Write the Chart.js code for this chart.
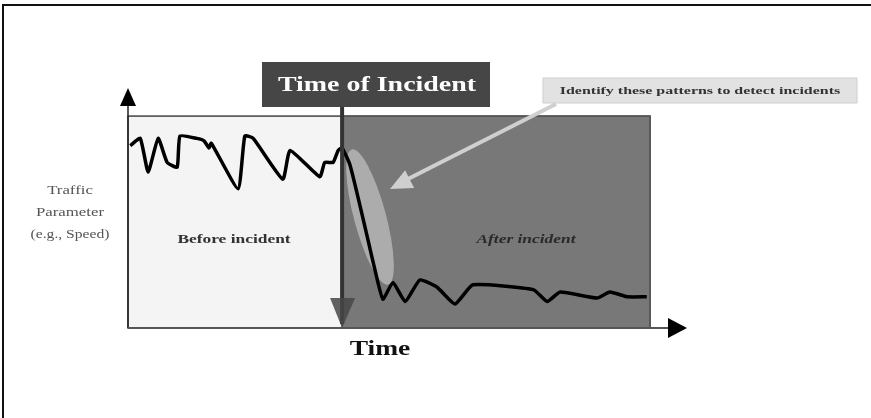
<!DOCTYPE html>
<html lang="en">
<head>
<meta charset="UTF-8">
<title>Traffic incident detection</title>
<script src="https://cdn.jsdelivr.net/npm/chart.js"></script>
<style>
  body { margin: 0; background: #fff; }
  canvas { display: block; }
</style>
</head>
<body>
<canvas id="myChart" width="871" height="418"></canvas>
<script>
// time (arbitrary units 0..100) and traffic parameter (speed, 0..100)
const timeValues = [0.4, 2.2, 3.6, 5.4, 7.0, 8.8, 9.3, 12.3, 13.6, 14.5, 14.9, 19.7, 20.9, 22.4, 27.7, 29.0, 34.3, 35.2, 36.7, 37.6, 38.3,
  39.7, 41.5, 42.9, 44.2, 45.6, 47.4, 49.6, 52.2, 55.3, 58.5, 61.7, 72.5, 75.0, 77.3, 83.9, 86.2, 89.3, 92.8];
const speedValues = [76, 79, 65, 79, 69, 67, 80, 79, 78, 75, 77, 58, 80, 79, 62, 74, 63, 69, 69, 74, 75,
  68, 51, 37, 24, 12, 19, 11, 20, 17, 10, 18, 16, 11, 15, 12.5, 15, 13, 13];

const incidentTime = 38.3;
const endTime = 93.4;
const regionTop = 88.3;

const points = timeValues.map((t, i) => ({x: t, y: speedValues[i]}));

function tri(ctx, pts, color) {
    ctx.beginPath();
    ctx.moveTo(pts[0][0], pts[0][1]);
    ctx.lineTo(pts[1][0], pts[1][1]);
    ctx.lineTo(pts[2][0], pts[2][1]);
    ctx.closePath();
    ctx.fillStyle = color;
    ctx.fill();
}

// the original lettering is wide, so stretch it sideways
function wideText(ctx, text, x, y, sx) {
    ctx.save();
    ctx.translate(x, y);
    ctx.scale(sx, 1);
    ctx.fillText(text, 0, 0);
    ctx.restore();
}

const diagram = {
    id: 'diagram',
    beforeDatasetsDraw(chart) {
        const ctx = chart.ctx;
        const xs = chart.scales.x, ys = chart.scales.y;
        const x0 = xs.getPixelForValue(0);
        const xi = xs.getPixelForValue(incidentTime);
        const xe = xs.getPixelForValue(endTime);
        const yt = ys.getPixelForValue(regionTop);
        const yb = ys.getPixelForValue(0);
        ctx.save();
        // frame
        ctx.strokeStyle = '#111';
        ctx.lineWidth = 2;
        ctx.beginPath();
        ctx.moveTo(3, 418); ctx.lineTo(3, 5); ctx.lineTo(871, 5);
        ctx.stroke();

        // regions
        ctx.fillStyle = '#f4f4f4';
        ctx.fillRect(x0, yt, xi - x0, yb - yt);
        ctx.fillStyle = '#787878';
        ctx.fillRect(xi, yt, xe - xi, yb - yt);
        ctx.strokeStyle = '#444';
        ctx.lineWidth = 1.5;
        ctx.strokeRect(x0, yt, xe - x0, yb - yt);
        ctx.strokeStyle = '#5a5a5a';
        ctx.strokeRect(xi, yt, xe - xi, yb - yt);

        // region labels
        ctx.font = 'bold 12px "Liberation Serif"';
        ctx.textAlign = 'center';
        ctx.textBaseline = 'middle';
        ctx.fillStyle = '#333';
        wideText(ctx, 'Before incident', 234, 240, 1.45);
        ctx.font = 'italic bold 12px "Liberation Serif"';
        ctx.fillStyle = '#2a2a2a';
        wideText(ctx, 'After incident', 526, 240, 1.45);

        // highlight ellipse
        ctx.beginPath();
        ctx.ellipse(370, 217, 70, 16, 75 * Math.PI / 180, 0, Math.PI * 2);
        ctx.fillStyle = 'rgba(215,215,215,0.55)';
        ctx.fill();
        ctx.restore();
    },
    afterDatasetsDraw(chart) {
        const ctx = chart.ctx;
        const xs = chart.scales.x, ys = chart.scales.y;
        const x0 = xs.getPixelForValue(0);
        const xi = xs.getPixelForValue(incidentTime);
        const yb = ys.getPixelForValue(0);
        const ytop = ys.getPixelForValue(100);
        const xr = xs.getPixelForValue(100);
        ctx.save();

        // axes
        ctx.strokeStyle = '#222';
        ctx.lineWidth = 1.5;
        ctx.beginPath();
        ctx.moveTo(x0, yb); ctx.lineTo(x0, ytop + 14);
        ctx.stroke();
        tri(ctx, [[x0 - 8, ytop + 18], [x0 + 8, ytop + 18], [x0, ytop]], '#000');
        ctx.strokeStyle = '#555';
        ctx.lineWidth = 2;
        ctx.beginPath();
        ctx.moveTo(x0, yb); ctx.lineTo(xr - 16, yb);
        ctx.stroke();
        tri(ctx, [[xr - 19, yb - 10], [xr - 19, yb + 10], [xr, yb]], '#000');

        // incident marker
        ctx.strokeStyle = '#333';
        ctx.lineWidth = 4;
        ctx.beginPath();
        ctx.moveTo(xi, 106); ctx.lineTo(xi, yb - 4);
        ctx.stroke();
        tri(ctx, [[xi - 12, yb - 30], [xi + 13, yb - 30], [xi, yb]], 'rgba(70,70,70,0.85)');

        ctx.fillStyle = '#464646';
        ctx.fillRect(262, 62, 228, 45);
        ctx.font = 'bold 22px "Liberation Serif"';
        ctx.textAlign = 'center';
        ctx.textBaseline = 'middle';
        ctx.fillStyle = '#fff';
        wideText(ctx, 'Time of Incident', 377, 85, 1.27);

        // callout
        ctx.fillStyle = '#e2e2e2';
        ctx.fillRect(543, 78, 314, 25);
        ctx.strokeStyle = '#d0d0d0';
        ctx.lineWidth = 1;
        ctx.strokeRect(543, 78, 314, 25);
        ctx.font = 'bold 11px "Liberation Serif"';
        ctx.fillStyle = '#333';
        wideText(ctx, 'Identify these patterns to detect incidents', 700, 91, 1.45);

        ctx.strokeStyle = '#cfcfcf';
        ctx.lineWidth = 4;
        ctx.beginPath();
        ctx.moveTo(556, 104); ctx.lineTo(404, 181);
        ctx.stroke();
        const ang = Math.atan2(188 - 104, 390 - 556);
        const tip = [390, 189];
        const bx = tip[0] - 22 * Math.cos(ang), by = tip[1] - 22 * Math.sin(ang);
        const px = -Math.sin(ang) * 10, py = Math.cos(ang) * 10;
        tri(ctx, [[bx + px, by + py], [bx - px, by - py], tip], '#cfcfcf');

        // axis titles
        ctx.font = 'bold 22px "Liberation Serif"';
        ctx.fillStyle = '#111';
        wideText(ctx, 'Time', 380, 349, 1.25);
        ctx.font = '12px "Liberation Serif"';
        ctx.fillStyle = '#555';
        wideText(ctx, 'Traffic', 70, 191, 1.4);
        wideText(ctx, 'Parameter', 70, 213, 1.4);
        wideText(ctx, '(e.g., Speed)', 70, 235, 1.3);
        ctx.restore();
    }
};

const ctx = document.getElementById('myChart').getContext('2d');
const myChart = new Chart(ctx, {
    type: 'line',
    data: {
        datasets: [{
            label: 'Traffic parameter',
            data: points,
            borderColor: '#000',
            borderWidth: 3.5,
            pointRadius: 0,
            tension: 0.15,
            fill: false
        }]
    },
    options: {
        responsive: false,
        animation: false,
        devicePixelRatio: 1,
        layout: {padding: {left: 128, right: 184, top: 88, bottom: 90}},
        plugins: {legend: {display: false}, tooltip: {enabled: false}},
        scales: {
            x: {type: 'linear', min: 0, max: 100, display: false},
            y: {min: 0, max: 100, display: false}
        }
    },
    plugins: [diagram]
});
</script>
</body>
</html>
